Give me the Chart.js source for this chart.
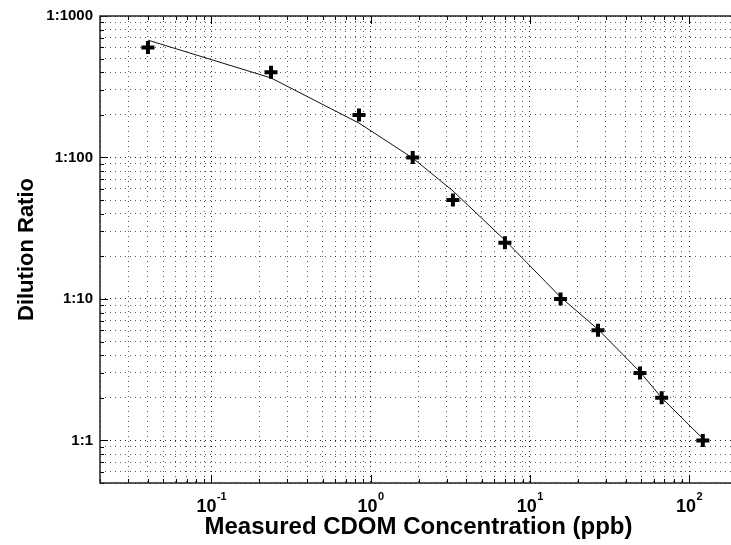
<!DOCTYPE html>
<html>
<head>
<meta charset="utf-8">
<title>Dilution Ratio vs Measured CDOM</title>
<script src="https://cdn.jsdelivr.net/npm/chart.js@4"></script>
<style>
  html, body { margin: 0; padding: 0; background: #fff; overflow: hidden; }
  #wrap { width: 760px; height: 545px; }
</style>
</head>
<body>
<div id="wrap"><canvas id="chart" width="760" height="545"></canvas></div>
<script>
// measured samples: CDOM reading (ppb) against dilution ratio (1:N)
const concentration = [0.04, 0.237, 0.846, 1.84, 3.29, 6.98, 15.6, 26.8, 49.2, 67.3, 122];
const dilution = [600, 400, 200, 100, 50, 25, 10, 6, 3, 2, 1];
// fitted curve evaluated at the same concentrations
const fitDilution = [675, 365, 175, 99, 58, 26, 10.3, 6.1, 3.05, 2.0, 1.03];

// axis decades and labels
const xDecades = [0.01, 0.1, 1, 10, 100];
const xLabelExponents = [-1, 0, 1, 2];
const yDecades = [0.1, 1, 10, 100, 1000];
const yLabelValues = [1, 10, 100, 1000];

const X_MIN = 0.02, X_MAX = 200;
const Y_MIN = 0.5, Y_MAX = 1000;

const FONT = '"Liberation Sans", Arial, Helvetica, sans-serif';

function logTicks(decades, min, max) {
  const out = [];
  decades.forEach(d => {
    for (let m = 1; m <= 9; m++) {
      const v = +(m * d).toPrecision(6);
      if (v >= min && v <= max) out.push(v);
    }
  });
  return out;
}

const isMajor = v => Math.abs(Math.log10(v) - Math.round(Math.log10(v))) < 1e-9;

const gridColor = c => (c.tick && isMajor(c.tick.value)) ? 'rgba(0,0,0,0.85)' : 'rgba(0,0,0,0.65)';

// frame, inward tick marks and 10^n labels
const axisFrame = {
  id: 'axisFrame',
  afterDraw(chart) {
    const { ctx, chartArea: a, scales: { x, y } } = chart;
    ctx.save();
    ctx.strokeStyle = '#000';
    ctx.lineWidth = 1;
    ctx.beginPath();
    x.ticks.forEach(t => {
      const px = Math.round(x.getPixelForValue(t.value)) + 0.5;
      const len = isMajor(t.value) ? 8 : 4;
      ctx.moveTo(px, a.bottom); ctx.lineTo(px, a.bottom - len);
      ctx.moveTo(px, a.top); ctx.lineTo(px, a.top + len);
    });
    y.ticks.forEach(t => {
      const py = Math.round(y.getPixelForValue(t.value)) + 0.5;
      const len = isMajor(t.value) ? 8 : 4;
      ctx.moveTo(a.left, py); ctx.lineTo(a.left + len, py);
    });
    ctx.stroke();

    ctx.lineWidth = 1.5;
    ctx.strokeStyle = '#222';
    ctx.strokeRect(a.left, a.top, a.right - a.left, a.bottom - a.top);

    ctx.fillStyle = '#000';
    ctx.textAlign = 'left';
    ctx.textBaseline = 'alphabetic';
    xLabelExponents.forEach(e => {
      const px = x.getPixelForValue(Math.pow(10, e));
      ctx.font = 'bold 18px ' + FONT;
      const wBase = ctx.measureText('10').width;
      ctx.font = 'bold 11px ' + FONT;
      const sup = String(e);
      const wSup = ctx.measureText(sup).width;
      const left = px - (wBase + wSup) / 2;
      ctx.font = 'bold 18px ' + FONT;
      ctx.fillText('10', left, 512);
      ctx.font = 'bold 11px ' + FONT;
      ctx.fillText(sup, left + wBase + 0.5, 500);
    });
    ctx.restore();
  }
};

new Chart(document.getElementById('chart').getContext('2d'), {
  type: 'scatter',
  data: {
    datasets: [
      {
        label: 'Measured',
        data: concentration.map((c, i) => ({ x: c, y: dilution[i] })),
        pointStyle: 'cross',
        pointRadius: 6.5,
        borderWidth: 4,
        borderColor: '#000',
        backgroundColor: '#000',
      },
      {
        label: 'Fit',
        data: concentration.map((c, i) => ({ x: c, y: fitDilution[i] })),
        showLine: true,
        pointRadius: 0,
        borderColor: '#111',
        borderWidth: 1,
        tension: 0,
      }
    ]
  },
  options: {
    responsive: false,
    animation: false,
    devicePixelRatio: 1,
    layout: { padding: { top: 15, right: 23, left: 0, bottom: 0 } },
    plugins: { legend: { display: false }, tooltip: { enabled: false } },
    scales: {
      x: {
        type: 'logarithmic',
        min: X_MIN, max: X_MAX,
        afterBuildTicks: s => { s.ticks = logTicks(xDecades, X_MIN, X_MAX).map(v => ({ value: v, major: isMajor(v) })); },
        afterFit: s => { s.height = 62; },
        ticks: { display: false, autoSkip: false },
        grid: { color: gridColor, lineWidth: 1, drawTicks: false },
        border: { display: false, dash: [1, 4] },
        title: {
          display: true,
          text: 'Measured CDOM Concentration (ppb)',
          color: '#000',
          font: { family: FONT, size: 24, weight: 'bold' },
          padding: { top: 0, bottom: 3 },
        }
      },
      y: {
        type: 'logarithmic',
        min: Y_MIN, max: Y_MAX,
        afterBuildTicks: s => { s.ticks = logTicks(yDecades, Y_MIN, Y_MAX).map(v => ({ value: v, major: isMajor(v) })); },
        afterFit: s => { s.width = 100; },
        ticks: {
          autoSkip: false,
          padding: 7,
          color: '#000',
          font: { family: FONT, size: 15, weight: 'bold' },
          callback: v => yLabelValues.some(l => Math.abs(l - v) < 1e-9) ? '1:' + v : '',
        },
        grid: { color: gridColor, lineWidth: 1, drawTicks: false },
        border: { display: false, dash: [1, 4] },
        title: {
          display: true,
          text: 'Dilution Ratio',
          color: '#000',
          font: { family: FONT, size: 22, weight: 'bold' },
          padding: { top: 14, bottom: 0 },
        }
      }
    }
  },
  plugins: [axisFrame]
});
</script>
</body>
</html>
